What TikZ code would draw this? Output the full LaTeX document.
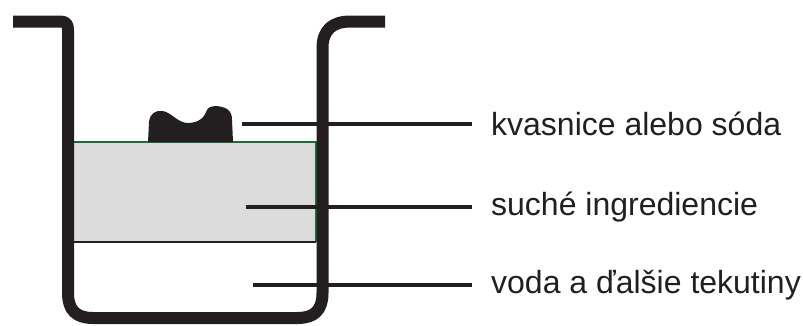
\documentclass[tikz,border=0pt]{standalone}
\usepackage{fontspec}
\setmainfont{Liberation Sans}
\definecolor{ink}{HTML}{231F20}
\definecolor{dry}{HTML}{DCDCDC}
\definecolor{edge}{HTML}{1E6B3C}
\begin{document}
\begin{tikzpicture}[x=1pt,y=-1pt,
  pan/.style={draw=ink,line width=12pt,line cap=butt,line join=round},
  leader/.style={draw=ink,line width=4pt},
  lbl/.style={anchor=west,inner sep=0pt,text=ink,font=\fontsize{32}{36}\selectfont}]
\useasboundingbox (0,0) rectangle (803,325);
% dry ingredients layer
\fill[dry] (74,142) rectangle (317,242);
\draw[edge,line width=2pt] (74,142) -- (316,142) -- (316,242);
\draw[ink,line width=2pt] (74,242) -- (316,242);
% yeast blob
\fill[ink] (148,142) -- (149,122) .. controls (150,113) and (156,110) .. (163,111)
  .. controls (172,113) and (178,123) .. (188,123)
  .. controls (200,123) and (205,116) .. (207,110)
  .. controls (209,105) and (220,105) .. (227,109)
  .. controls (231,112) and (232,115) .. (232,120) -- (233,142) -- cycle;
% pan
\draw[pan] (13,21.5) -- (60,21.5) .. controls (66,21.5) and (68,24) .. (68,30)
  -- (68,293) .. controls (68,310) and (76,318) .. (93,318)
  -- (297.5,318) .. controls (314.5,318) and (322.5,310) .. (322.5,293)
  -- (322.5,48) .. controls (322.5,30) and (332.5,21.5) .. (350.5,21.5) -- (385,21.5);
% labels
\node[lbl] (l1) at (491,124) {kvasnice alebo sóda};
\node[lbl] (l2) at (491,207) {suché ingrediencie};
\node[lbl] (l3) at (491,285) {voda a ďalšie tekutiny};
\coordinate (s1) at (242,124);
\coordinate (s2) at (246,207);
\coordinate (s3) at (253,285);
\draw[leader] (s1) -- (l1.west -| 472,0);
\draw[leader] (s2) -- (l2.west -| 472,0);
\draw[leader] (s3) -- (l3.west -| 472,0);
\end{tikzpicture}
\end{document}
